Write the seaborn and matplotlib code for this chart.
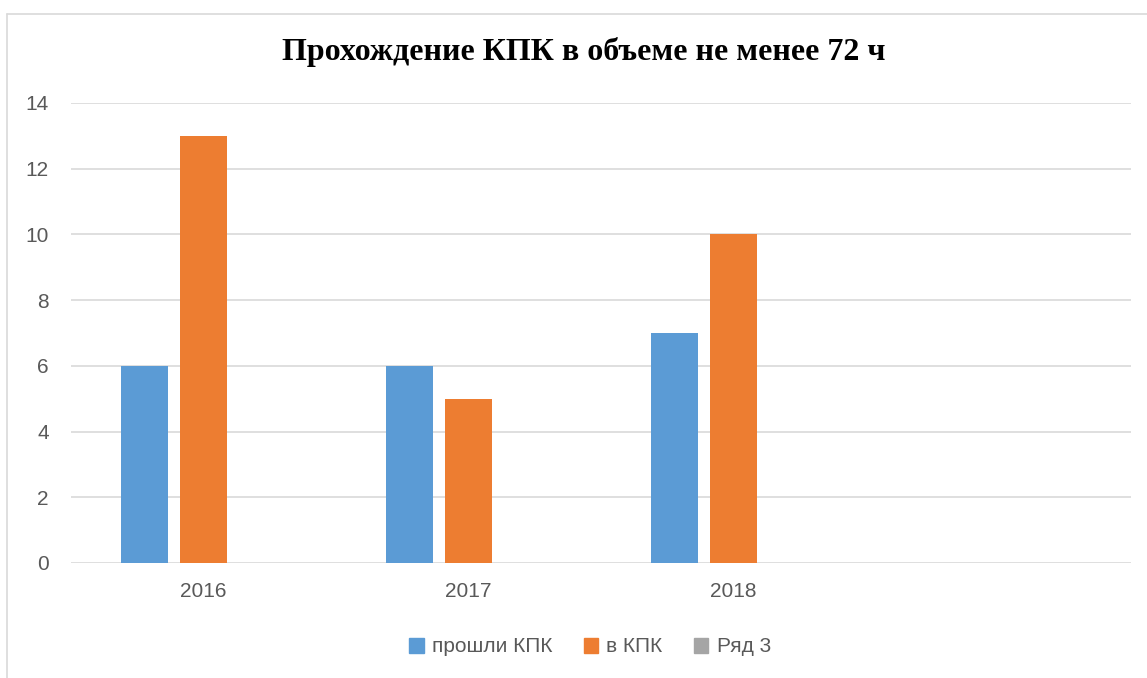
import seaborn as sns
import matplotlib.pyplot as plt
import matplotlib.patches as mpatches
from matplotlib.lines import Line2D
import pandas as pd

# data
years = ["2016", "2017", "2018"]
passed = [6, 6, 7]        # прошли КПК
in_kpk = [13, 5, 10]      # в КПК
row3 = [0, 0, 0]          # Ряд 3
series_names = ["прошли КПК", "в КПК", "Ряд 3"]
colors = ["#5B9BD5", "#ED7D31", "#A5A5A5"]

df = pd.DataFrame({
    "year": years * 3,
    "series": [series_names[0]] * 3 + [series_names[1]] * 3 + [series_names[2]] * 3,
    "value": passed + in_kpk + row3,
})

sns.set_theme(style="white")
plt.rcParams["font.family"] = ["Liberation Sans", "DejaVu Sans"]

W, H = 1147, 678
fig = plt.figure(figsize=(W / 100, H / 100), dpi=100)
ax = fig.add_axes([71 / W, 115 / H, (1131 - 71) / W, 460 / H])

sns.barplot(data=df, x="year", y="value", hue="series", order=years,
            hue_order=series_names, palette=colors, width=0.668, gap=0.22,
            saturation=1, linewidth=0, errorbar=None, legend=False, ax=ax)

ax.set_xlim(-0.5, 3.5)
ax.set_ylim(0, 14)
ax.set_yticks(range(0, 15, 2))
ax.grid(axis="y", color="#d9d9d9", linewidth=1.2)
ax.set_axisbelow(True)
for s in ax.spines.values():
    s.set_visible(False)
ax.set_xlabel("")
ax.set_ylabel("")
ax.tick_params(axis="both", length=0, labelsize=15, labelcolor="#595959")
ax.tick_params(axis="y", pad=16)
ax.tick_params(axis="x", pad=14)

# chart frame (only top and left edges are visible in the crop)
fy = 1 - 13.5 / H
fx = 7.5 / W
fig.add_artist(Line2D([fx, 1.0], [fy, fy], transform=fig.transFigure,
                      color="#d9d9d9", linewidth=1.2))
fig.add_artist(Line2D([fx, fx], [0.0, fy], transform=fig.transFigure,
                      color="#d9d9d9", linewidth=1.2))

fig.text(584 / W, 1 - 52 / H, "Прохождение КПК в объеме не менее 72 ч",
         family=["Liberation Serif", "DejaVu Serif"], fontweight="bold",
         fontsize=23, ha="center", va="center", color="black")

handles = [mpatches.Patch(color=c, label=n) for c, n in zip(colors, series_names)]
fig.legend(handles=handles, loc="center", bbox_to_anchor=(590 / W, 1 - 647 / H),
           ncol=3, frameon=False, fontsize=15, handlelength=0.7, handleheight=0.7,
           handletextpad=0.4, columnspacing=1.5, labelcolor="#595959")

fig.savefig("out.png", dpi=100)
